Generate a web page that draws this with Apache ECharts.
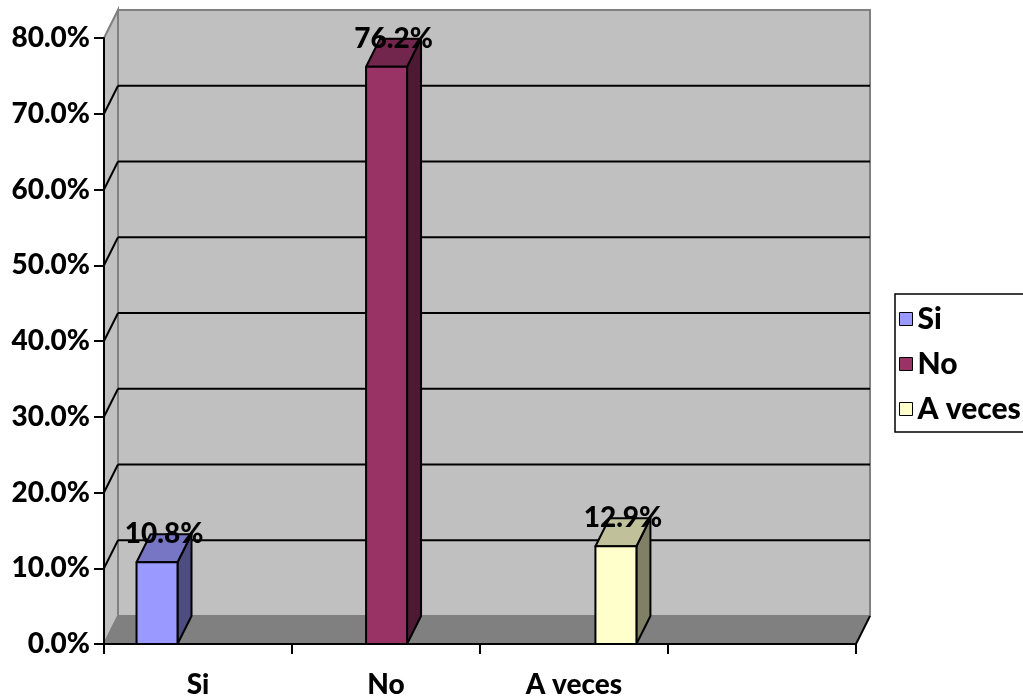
<!DOCTYPE html>
<html>
<head>
<meta charset="utf-8">
<script src="https://cdn.jsdelivr.net/npm/echarts@6/dist/echarts.min.js"></script>
<style>
  html, body { margin: 0; padding: 0; background: #ffffff; }
  #chart { width: 1023px; height: 699px; }
</style>
</head>
<body>
<div id="chart"></div>
<script>
// ---- data ----
const categories = ['Si', 'No', 'A veces', ''];
const seriesNames = ['Si', 'No', 'A veces'];
const seriesValues = [0.108, 0.762, 0.129];
const yTickValues = [0, 0.1, 0.2, 0.3, 0.4, 0.5, 0.6, 0.7, 0.8];

// ---- layout / style ----
const FONT = 'Lato';
const FW = 900;
const FS = 28;
const FS_LEGEND = 30;
const DX = 14, DY = -28;              // depth offset of the 3D box
const BAR_CENTER = [0.282, 1.503, 2.723]; // in category-slot units
const BAR_W = 0.218;
const COLORS = [
  { front: '#9999ff', top: '#7676c4', side: '#4d4d80' },
  { front: '#993366', top: '#73264d', side: '#4d1a33' },
  { front: '#ffffcc', top: '#c0c09a', side: '#808066' }
];
const Y_MAX = yTickValues[yTickValues.length - 1];
const X_SLOTS = categories.length;

function pct(v) { return (v * 100).toFixed(1) + '%'; }

function renderWalls(params, api) {
  const L = api.coord([0, 0]);
  const R = api.coord([X_SLOTS, 0]);
  const T = api.coord([0, Y_MAX]);
  const x0 = L[0], x1 = R[0], yb = L[1], yt = T[1];
  const ch = [];
  ch.push({ type: 'polygon', shape: { points: [[x0 + DX, yt + DY], [x1 + DX, yt + DY], [x1 + DX, yb + DY], [x0 + DX, yb + DY]] },
    style: { fill: '#c0c0c0', stroke: '#808080', lineWidth: 2 } });
  ch.push({ type: 'polygon', shape: { points: [[x0, yt], [x0 + DX, yt + DY], [x0 + DX, yb + DY], [x0, yb]] },
    style: { fill: '#c0c0c0', stroke: '#808080', lineWidth: 2 } });
  ch.push({ type: 'polygon', shape: { points: [[x0, yb], [x1, yb], [x1 + DX, yb + DY], [x0 + DX, yb + DY]] },
    style: { fill: '#808080' } });
  ch.push({ type: 'line', shape: { x1: x1, y1: yb, x2: x1 + DX, y2: yb + DY }, style: { stroke: '#000', lineWidth: 2 } });
  yTickValues.forEach(function (t) {
    if (t <= 0 || t >= Y_MAX) return;
    const p = api.coord([0, t]);
    ch.push({ type: 'line', shape: { x1: x0, y1: p[1], x2: x0 + DX, y2: p[1] + DY }, style: { stroke: '#000', lineWidth: 2 } });
    ch.push({ type: 'line', shape: { x1: x0 + DX, y1: p[1] + DY, x2: x1 + DX, y2: p[1] + DY }, style: { stroke: '#000', lineWidth: 2 } });
  });
  return { type: 'group', children: ch };
}

function makeBarRenderer(ci) {
  return function (params, api) {
    const cx = api.value(0), v = api.value(1);
    const bw = api.size([BAR_W, 0])[0];
    const base = api.coord([cx, 0]);
    const top = api.coord([cx, v]);
    const xl = base[0] - bw / 2, xr = base[0] + bw / 2, yb = base[1], yt = top[1];
    const c = COLORS[ci];
    const st = { stroke: '#000', lineWidth: 2, lineJoin: 'round' };
    return {
      type: 'group',
      children: [
        { type: 'polygon', shape: { points: [[xr, yt], [xr + DX, yt + DY], [xr + DX, yb + DY], [xr, yb]] }, style: Object.assign({ fill: c.side }, st) },
        { type: 'polygon', shape: { points: [[xl, yt], [xr, yt], [xr + DX, yt + DY], [xl + DX, yt + DY]] }, style: Object.assign({ fill: c.top }, st) },
        { type: 'polygon', shape: { points: [[xl, yt], [xr, yt], [xr, yb], [xl, yb]] }, style: Object.assign({ fill: c.front }, st) },
        { type: 'text', x: base[0] + DX / 2, y: yt + DY, z2: 10,
          style: { text: pct(v), fill: '#000', font: FW + ' ' + FS + 'px ' + FONT, align: 'center', verticalAlign: 'middle' } }
      ]
    };
  };
}

const chart = echarts.init(document.getElementById('chart'), null, { renderer: 'canvas' });

const series = [{
  name: 'walls', type: 'custom', xAxisIndex: 1, yAxisIndex: 0, clip: false, z: 1,
  silent: true, renderItem: renderWalls, data: [[0, 0]]
}];
seriesNames.forEach(function (n, i) {
  series.push({
    name: n, type: 'custom', xAxisIndex: 1, yAxisIndex: 0, clip: false, z: 3,
    itemStyle: { color: COLORS[i].front, borderColor: '#000', borderWidth: 1 },
    renderItem: makeBarRenderer(i),
    data: [[BAR_CENTER[i], seriesValues[i]]]
  });
});

chart.setOption({
  animation: false,
  backgroundColor: '#ffffff',
  grid: { left: 104, right: 167, top: 38, bottom: 55, containLabel: false },
  legend: {
    data: seriesNames,
    orient: 'vertical',
    left: 895, top: 294,
    padding: [10, 20, 8, 4],
    itemGap: 15,
    itemWidth: 13, itemHeight: 13,
    icon: 'rect',
    borderColor: '#000', borderWidth: 1.5,
    itemStyle: { borderColor: '#000', borderWidth: 1 },
    textStyle: { fontFamily: FONT, fontWeight: FW, fontSize: FS_LEGEND, color: '#000', lineHeight: 29 }
  },
  xAxis: [{
    type: 'category', data: categories, boundaryGap: true,
    axisLine: { show: true, lineStyle: { color: '#000', width: 2 } },
    axisTick: { show: true, length: 10, lineStyle: { color: '#000', width: 2 } },
    axisLabel: { fontFamily: FONT, fontWeight: FW, fontSize: FS, color: '#000', margin: 27 },
    splitLine: { show: false }, z: 5
  }, {
    type: 'value', min: 0, max: X_SLOTS, show: false
  }],
  yAxis: [{
    type: 'value', min: 0, max: Y_MAX, interval: 0.1,
    axisLine: { show: true, lineStyle: { color: '#000', width: 2 } },
    axisTick: { show: true, length: 10, lineStyle: { color: '#000', width: 2 } },
    axisLabel: { fontFamily: FONT, fontWeight: FW, fontSize: FS, color: '#000', margin: 14, formatter: pct },
    splitLine: { show: false }, z: 5
  }],
  series: series
});
</script>
</body>
</html>
